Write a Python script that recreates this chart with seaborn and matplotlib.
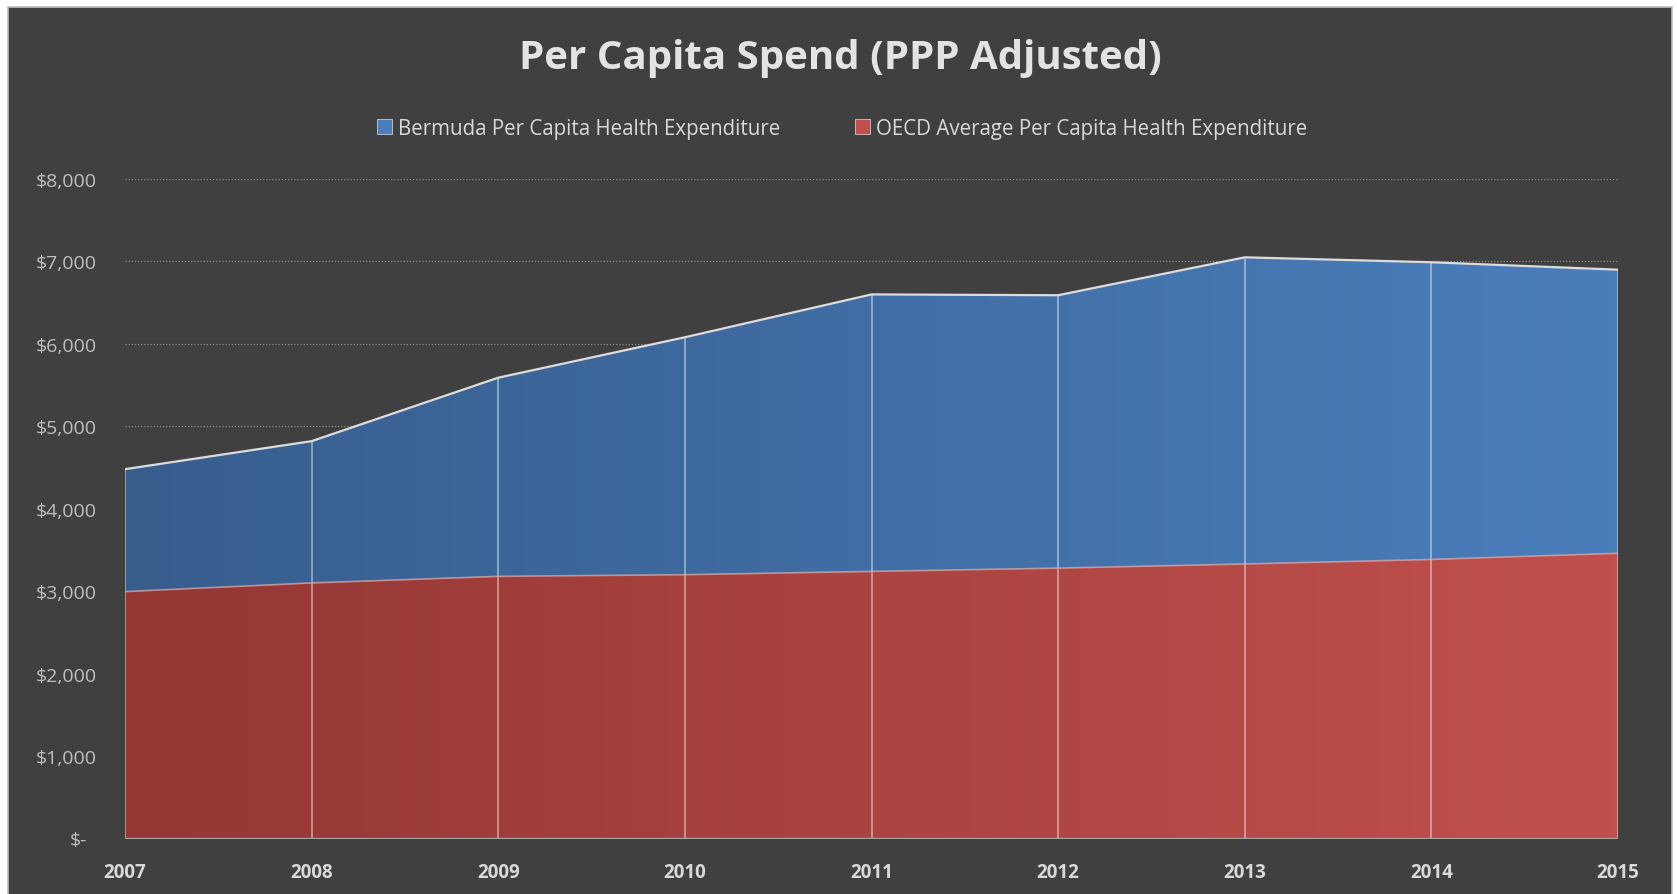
import numpy as np
import pandas as pd
import matplotlib
matplotlib.use("Agg")
import matplotlib.pyplot as plt
import matplotlib.transforms as mtransforms
from matplotlib.colors import LinearSegmentedColormap
from matplotlib.patches import PathPatch, Rectangle, Patch
import seaborn as sns

years = [2007, 2008, 2009, 2010, 2011, 2012, 2013, 2014, 2015]
bermuda = [4480, 4820, 5590, 6080, 6600, 6590, 7050, 6990, 6900]
oecd = [2995, 3100, 3180, 3200, 3240, 3280, 3330, 3385, 3460]
yticks = [0, 1000, 2000, 3000, 4000, 5000, 6000, 7000, 8000]
ylabels = ["$-", "$1,000", "$2,000", "$3,000", "$4,000", "$5,000", "$6,000", "$7,000", "$8,000"]
names = ["Bermuda Per Capita Health Expenditure", "OECD Average Per Capita Health Expenditure"]

df = pd.DataFrame({"year": years, "bermuda": bermuda, "oecd": oecd})

sns.set_theme(style="dark")
plt.rcParams["font.family"] = ["Open Sans", "DejaVu Sans"]

bg = "#404040"
fig = plt.figure(figsize=(16.77, 8.95), dpi=100)
fig.patch.set_facecolor("white")
fig.patches.append(Rectangle((8 / 1677, -0.05), 1664 / 1677, 1.05 - 7.5 / 895,
                             transform=fig.transFigure, facecolor=bg,
                             edgecolor="#bfbfbf", lw=1.2, zorder=-10))

ax = fig.add_axes([125 / 1677, 1 - 839.5 / 895, (1618 - 125) / 1677, (839.5 - 180) / 895])
ax.set_facecolor(bg)
ax.patch.set_alpha(0)

# dotted gridlines
for v in yticks[1:]:
    ax.axhline(v, color="#8c8c8c", lw=0.9, ls=(0, (1, 1.5)), zorder=0.5)


def gradient_area(vals, c_left, c_right, z):
    poly = ax.fill_between(df["year"], 0, vals, facecolor="none", edgecolor="none")
    path = poly.get_paths()[0]
    patch = PathPatch(path, transform=ax.transData, facecolor="none",
                      edgecolor="none")
    ax.add_patch(patch)
    cmap = LinearSegmentedColormap.from_list("g", [c_left, c_right])
    grad = np.linspace(0, 1, 256).reshape(1, -1)
    im = ax.imshow(grad, cmap=cmap, aspect="auto", extent=[years[0], years[-1], 0, 8000],
                   origin="lower", zorder=z)
    im.set_clip_path(patch)


gradient_area(df["bermuda"], "#375d8d", "#4a7ebb", 1)
gradient_area(df["oecd"], "#943735", "#c0504d", 2)

# drop lines
ax.vlines(df["year"], 0, df["bermuda"], color="white", alpha=0.45, lw=1.3, zorder=3)

# outlines
sns.lineplot(data=df, x="year", y="bermuda", color="#dcdcdc", lw=1.6, ax=ax, zorder=4)
sns.lineplot(data=df, x="year", y="oecd", color="#e0b0ae", lw=1.2, alpha=0.7, ax=ax, zorder=4)
ax.axhline(0, color="#a6a6a6", lw=1.6, zorder=5)

ax.set_xlim(years[0], years[-1])
ax.set_ylim(0, 8000)
ax.set_xticks(years)
ax.set_xticklabels([str(y) for y in years], fontsize=13.5, fontweight="bold", color="#d9d9d9")
ax.set_yticks(yticks)
ax.set_yticklabels(ylabels, fontsize=14, color="#bfbfbf")
ax.tick_params(axis="x", length=0, pad=17)
ax.tick_params(axis="y", length=0, pad=20)
ax.set_xlabel("")
ax.set_ylabel("")
for s in ax.spines.values():
    s.set_visible(False)
ax.grid(False)

# accounting-style "$-" sits a little left of the others
lab0 = ax.get_yticklabels()[0]
lab0.set_transform(lab0.get_transform() + mtransforms.ScaledTranslation(-0.10, 0, fig.dpi_scale_trans))

fig.text(840 / 1677, 1 - 59 / 895, "Per Capita Spend (PPP Adjusted)", ha="center", va="center",
         fontsize=29, fontweight="bold", color="#e3e3e3")

handles = [Patch(facecolor="#4a7ebb", edgecolor="#e0e0e0", lw=0.5),
           Patch(facecolor="#c0504d", edgecolor="#e0e0e0", lw=0.5)]
leg = fig.legend(handles, names, loc="center", bbox_to_anchor=(842 / 1677, 1 - 129 / 895),
                 ncol=2, frameon=False, fontsize=14.8, labelcolor="#d9d9d9",
                 handlelength=0.75, handleheight=0.75, handletextpad=0.3, columnspacing=3.6)

fig.savefig("out.png", dpi=100, facecolor=fig.get_facecolor())
